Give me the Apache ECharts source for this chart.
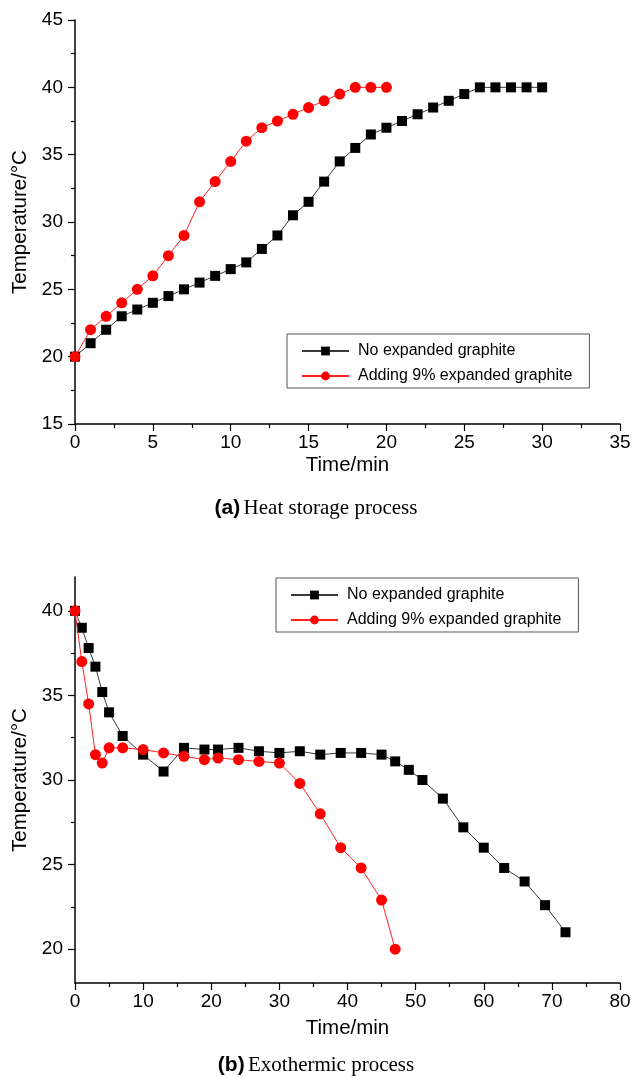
<!DOCTYPE html>
<html>
<head>
<meta charset="utf-8">
<script src="https://cdn.jsdelivr.net/npm/echarts@6/dist/echarts.min.js"></script>
<style>
  html, body { margin: 0; padding: 0; background: #fff; }
  #chart { width: 632px; height: 1078px; }
</style>
</head>
<body>
<div id="chart"></div>
<script>
// ---- (a) Heat storage process ----
const storageTimeNoEG = [0,1,2,3,4,5,6,7,8,9,10,11,12,13,14,15,16,17,18,19,20,21,22,23,24,25,26,27,28,29,30];
const storageTempNoEG = [20,21,22,23,23.5,24,24.5,25,25.5,26,26.5,27,28,29,30.5,31.5,33,34.5,35.5,36.5,37,37.5,38,38.5,39,39.5,40,40,40,40,40];
const storageTimeEG = [0,1,2,3,4,5,6,7,8,9,10,11,12,13,14,15,16,17,18,19,20];
const storageTempEG = [20,22,23,24,25,26,27.5,29,31.5,33,34.5,36,37,37.5,38,38.5,39,39.5,40,40,40];

// ---- (b) Exothermic process ----
const releaseTimeNoEG = [0,1,2,3,4,5,7,10,13,16,19,21,24,27,30,33,36,39,42,45,47,49,51,54,57,60,63,66,69,72];
const releaseTempNoEG = [40,39,37.8,36.7,35.2,34,32.6,31.5,30.5,31.9,31.8,31.8,31.9,31.7,31.6,31.7,31.5,31.6,31.6,31.5,31.1,30.6,30,28.9,27.2,26,24.8,24,22.6,21];
const releaseTimeEG = [0,1,2,3,4,5,7,10,13,16,19,21,24,27,30,33,36,39,42,45,47];
const releaseTempEG = [40,37,34.5,31.5,31,31.9,31.9,31.8,31.6,31.4,31.2,31.3,31.2,31.1,31,29.8,28,26,24.8,22.9,20];

const seriesNames = ['No expanded graphite', 'Adding 9% expanded graphite'];
const releaseMajorTicks = [20, 25, 30, 35, 40];
const releaseMinorTicks = [22.5, 27.5, 32.5, 37.5];

const FONT = 'Liberation Sans, Arial, Helvetica, sans-serif';
const SERIF = 'Liberation Serif, Times New Roman, serif';

function pairs(xs, ys) { return xs.map((x, i) => [x, ys[i]]); }

const axisLineStyle = { color: '#000', width: 1.5 };
const tickStyle = { color: '#000', width: 1.2 };
const labelStyle = { color: '#000', fontSize: 19, fontFamily: FONT };
const nameStyle = { color: '#000', fontSize: 20.5, fontFamily: FONT };

function xAxisFor(gridIndex, max, interval, nameGap) {
  return {
    type: 'value', gridIndex, min: 0, max, interval,
    name: 'Time/min', nameLocation: 'middle', nameGap, nameTextStyle: nameStyle,
    axisLine: { show: true, lineStyle: axisLineStyle },
    axisTick: { show: true, length: 7, lineStyle: tickStyle },
    minorTick: { show: true, splitNumber: 2, length: 4, lineStyle: tickStyle },
    axisLabel: Object.assign({ margin: 9 }, labelStyle),
    splitLine: { show: false }
  };
}

function yAxisBase(gridIndex, min, max) {
  return {
    type: 'value', gridIndex, min, max, position: 'left',
    name: 'Temperature/°C', nameLocation: 'middle', nameGap: 42, nameTextStyle: nameStyle,
    axisLine: { show: true, lineStyle: axisLineStyle },
    splitLine: { show: false }
  };
}

const blackLine = { color: '#3a3a3a', width: 1 };
const redLine = { color: '#ff2020', width: 1 };

function blackSeries(xi, yi, data) {
  return {
    name: seriesNames[0], type: 'line', xAxisIndex: xi, yAxisIndex: yi, data,
    symbol: 'rect', symbolSize: 10, showAllSymbol: true,
    itemStyle: { color: '#000' }, lineStyle: blackLine, z: 2
  };
}
function redSeries(xi, yi, data) {
  return {
    name: seriesNames[1], type: 'line', xAxisIndex: xi, yAxisIndex: yi, data,
    symbol: 'circle', symbolSize: 11, showAllSymbol: true,
    itemStyle: { color: '#ff0000' }, lineStyle: redLine, z: 3
  };
}

function legendAt(left, top) {
  return {
    orient: 'vertical', left, top,
    data: seriesNames,
    itemWidth: 47, itemHeight: 11, itemGap: 9,
    padding: [9, 17, 4, 14],
    borderColor: '#555', borderWidth: 1,
    selectedMode: false,
    textStyle: { color: '#000', fontSize: 16, fontFamily: FONT, lineHeight: 16, padding: [0, 0, 0, 4] }
  };
}

function caption(tag, text, top) {
  return {
    type: 'text', left: 'center', top,
    style: {
      text: '{b|' + tag + '} {t|' + text + '}',
      rich: {
        b: { fontSize: 21, fontWeight: 'bold', fontFamily: FONT, fill: '#000' },
        t: { fontSize: 21, fontFamily: SERIF, fill: '#000' }
      }
    }
  };
}

const option = {
  animation: false,
  backgroundColor: '#fff',
  grid: [
    { left: 75, top: 20, width: 545, height: 404, outerBoundsMode: 'none' },
    { left: 75, top: 577, width: 545, height: 406, outerBoundsMode: 'none' }
  ],
  xAxis: [
    xAxisFor(0, 35, 5, 31),
    xAxisFor(1, 80, 10, 35)
  ],
  yAxis: [
    Object.assign(yAxisBase(0, 15, 45), {
      interval: 5,
      axisTick: { show: true, length: 7, lineStyle: tickStyle },
      minorTick: { show: true, splitNumber: 2, length: 4, lineStyle: tickStyle },
      axisLabel: Object.assign({ margin: 12 }, labelStyle)
    }),
    Object.assign(yAxisBase(1, 18, 42), {
      axisTick: { show: true, length: 7, lineStyle: tickStyle, customValues: releaseMajorTicks },
      axisLabel: Object.assign({ margin: 12, customValues: releaseMajorTicks }, labelStyle)
    }),
    {
      // minor ticks for the exothermic temperature axis
      type: 'value', gridIndex: 1, min: 18, max: 42, position: 'left', offset: 0,
      axisLine: { show: false },
      axisTick: { show: true, length: 4, lineStyle: tickStyle, customValues: releaseMinorTicks },
      axisLabel: { show: false },
      splitLine: { show: false }
    }
  ],
  legend: [
    legendAt(287, 334),
    legendAt(276, 578)
  ],
  series: [
    blackSeries(0, 0, pairs(storageTimeNoEG, storageTempNoEG)),
    redSeries(0, 0, pairs(storageTimeEG, storageTempEG)),
    blackSeries(1, 1, pairs(releaseTimeNoEG, releaseTempNoEG)),
    redSeries(1, 1, pairs(releaseTimeEG, releaseTempEG))
  ],
  graphic: [
    caption('(a)', 'Heat storage process', 498),
    caption('(b)', 'Exothermic process', 1055)
  ]
};

const chart = echarts.init(document.getElementById('chart'), null, { renderer: 'canvas' });
chart.setOption(option);
</script>
</body>
</html>
